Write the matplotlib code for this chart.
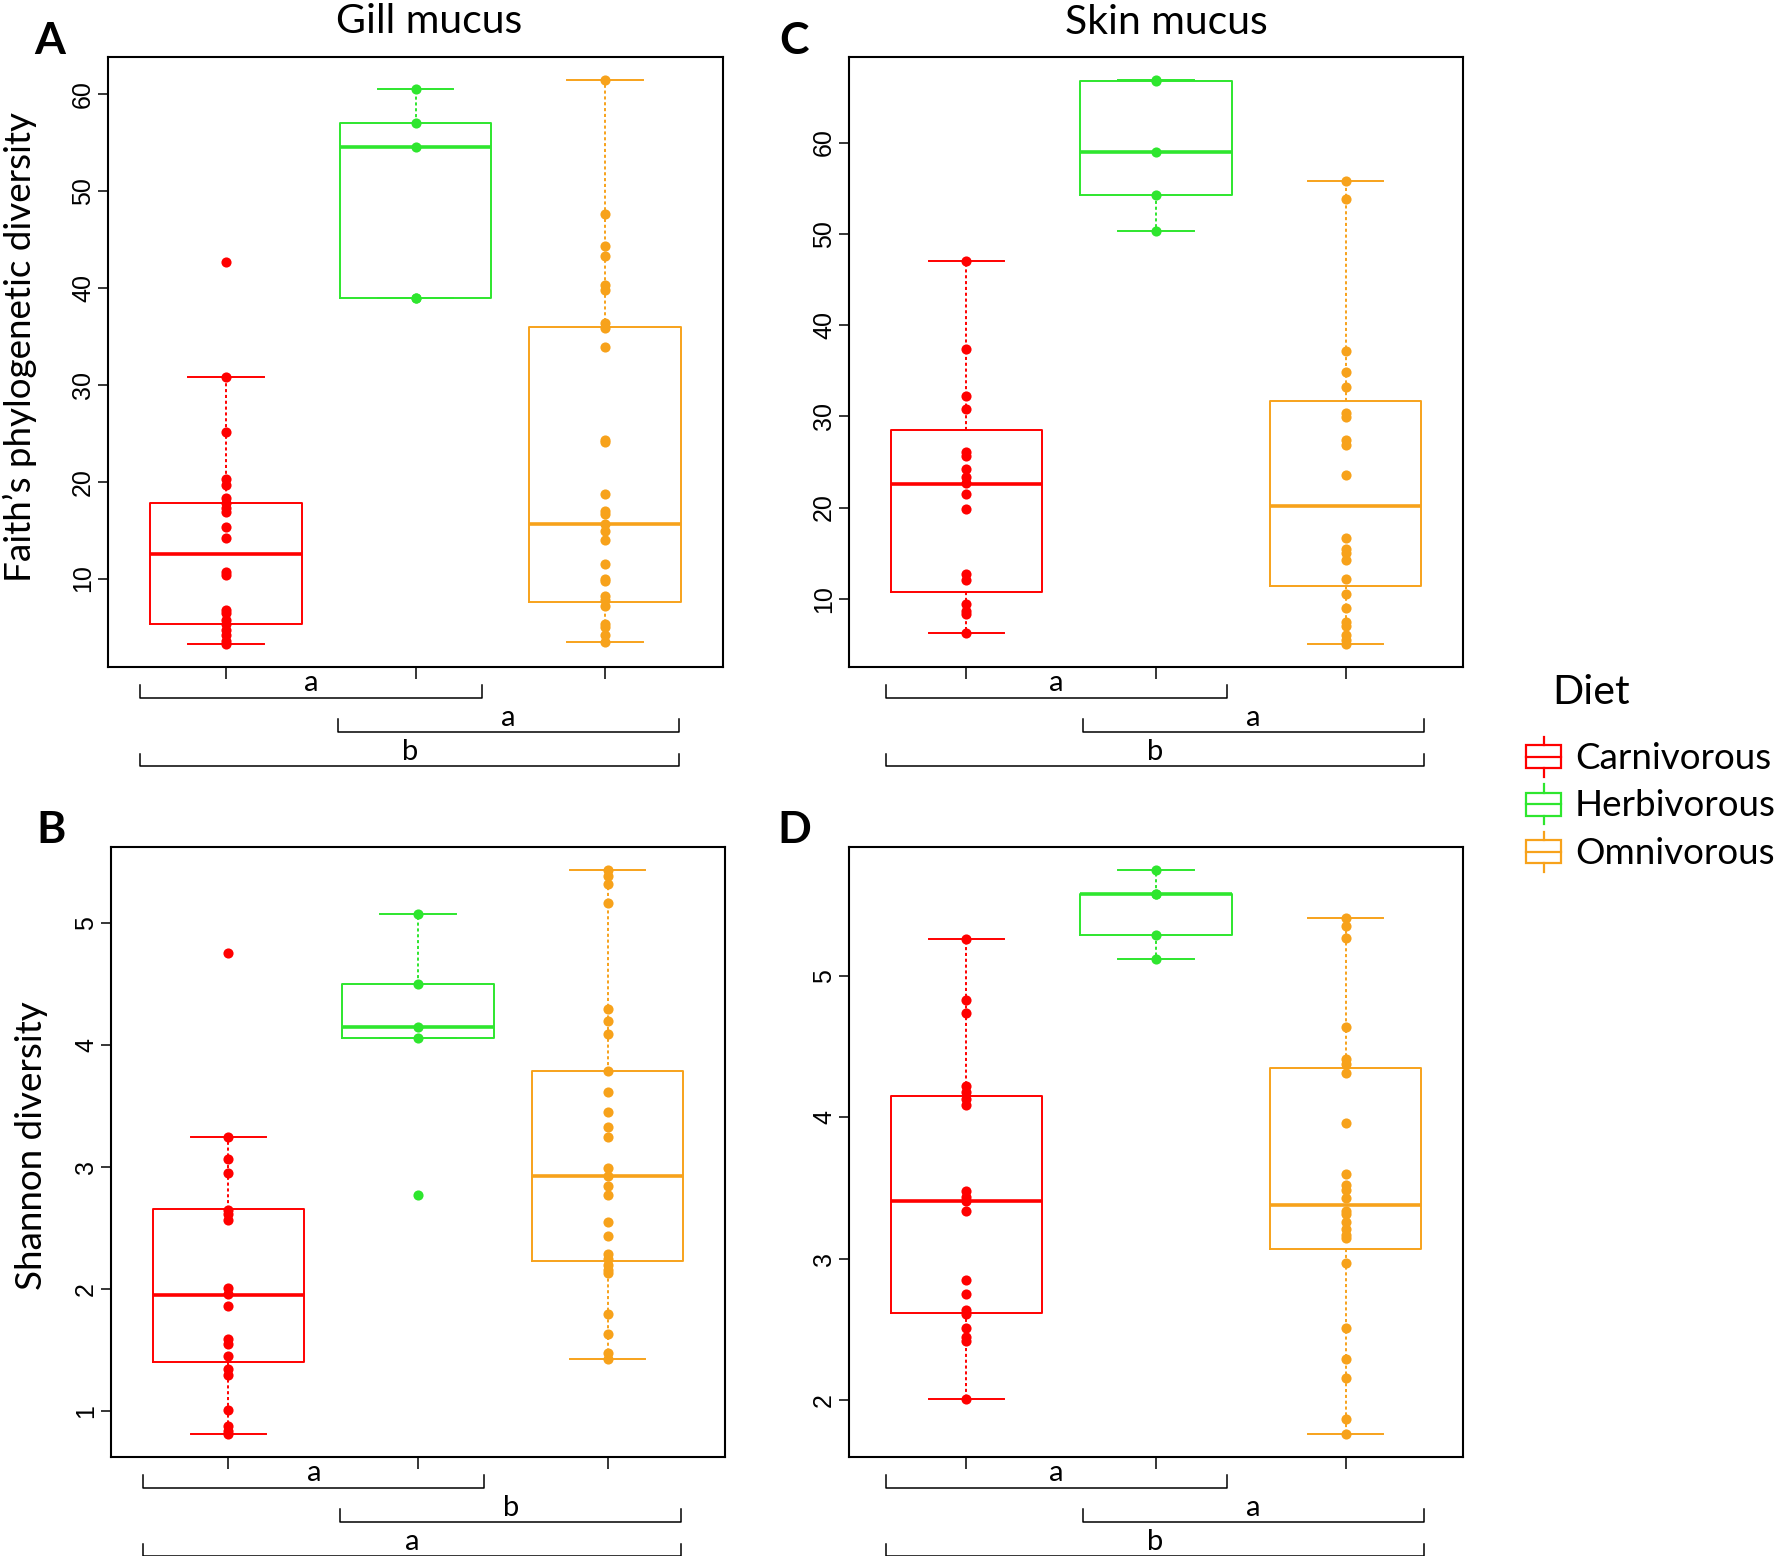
import numpy as np
import matplotlib.pyplot as plt
import matplotlib.transforms as mtransforms
from matplotlib.patches import Rectangle

# =========================================
# DATA
# =========================================

diets = ["Carnivorous", "Herbivorous", "Omnivorous"]
colors = ["#FF0000", "#2EE62E", "#F7A21B"]

# five numbers per box: lower whisker, lower hinge, median, upper hinge, upper whisker
gill_faith_box = [(3.2, 5.3, 12.5, 17.8, 30.8),
                  (39.0, 39.0, 54.5, 57.0, 60.5),
                  (3.5, 7.6, 15.6, 36.0, 61.5)]
gill_faith_pts = [
    [42.7, 30.8, 25.1, 20.3, 19.7, 18.3, 17.8, 17.3, 16.9, 15.3, 14.2, 10.7, 10.4,
     6.8, 6.4, 5.7, 5.3, 4.7, 4.2, 3.6, 3.2],
    [60.5, 57.0, 54.5, 39.0, 39.0],
    [61.5, 47.6, 44.3, 43.3, 40.3, 39.8, 36.4, 35.9, 33.9, 24.3, 24.1, 18.7, 17.0,
     16.7, 15.6, 14.9, 14.0, 11.5, 10.0, 9.7, 8.2, 7.8, 7.2, 5.3, 5.0, 4.2, 3.5]]

skin_faith_box = [(6.2, 10.7, 22.6, 28.5, 47.0),
                  (50.3, 54.3, 59.0, 66.7, 66.9),
                  (5.0, 11.4, 20.2, 31.7, 55.8)]
skin_faith_pts = [
    [47.0, 37.4, 32.2, 30.8, 26.1, 25.7, 24.2, 23.4, 22.7, 21.5, 19.8, 12.7, 12.1,
     9.4, 8.7, 8.3, 6.2],
    [66.9, 66.7, 59.0, 54.3, 50.3],
    [55.8, 53.8, 37.2, 34.8, 33.2, 30.4, 29.9, 27.4, 26.9, 23.6, 16.7, 15.5, 15.0,
     14.3, 12.2, 10.5, 9.0, 7.5, 7.0, 6.0, 5.5, 5.0]]

gill_shannon_box = [(0.81, 1.40, 1.95, 2.66, 3.25),
                    (4.06, 4.06, 4.15, 4.50, 5.08),
                    (1.43, 2.23, 2.93, 3.79, 5.44)]
gill_shannon_pts = [
    [4.76, 3.25, 3.07, 2.95, 2.65, 2.62, 2.57, 2.01, 1.96, 1.86, 1.59, 1.55, 1.45,
     1.35, 1.30, 1.01, 0.88, 0.84, 0.81],
    [5.08, 4.50, 4.15, 4.06, 2.77],
    [5.44, 5.39, 5.32, 5.17, 4.30, 4.20, 4.09, 3.79, 3.62, 3.45, 3.33, 3.25, 2.99,
     2.93, 2.85, 2.77, 2.55, 2.44, 2.29, 2.25, 2.20, 2.16, 2.13, 1.80, 1.63, 1.48, 1.43]]

skin_shannon_box = [(2.01, 2.62, 3.41, 4.15, 5.26),
                    (5.12, 5.29, 5.58, 5.58, 5.75),
                    (1.76, 3.07, 3.38, 4.35, 5.41)]
skin_shannon_pts = [
    [5.26, 4.83, 4.74, 4.22, 4.18, 4.13, 4.09, 3.48, 3.44, 3.41, 3.34, 2.85, 2.75,
     2.64, 2.61, 2.51, 2.45, 2.42, 2.01],
    [5.75, 5.58, 5.58, 5.29, 5.12],
    [5.41, 5.35, 5.27, 4.64, 4.41, 4.38, 4.31, 3.96, 3.60, 3.52, 3.49, 3.43, 3.34,
     3.32, 3.26, 3.21, 3.17, 3.15, 2.97, 2.51, 2.29, 2.16, 1.87, 1.76]]

faith_ticks = [10, 20, 30, 40, 50, 60]
gill_shannon_ticks = [1, 2, 3, 4, 5]
skin_shannon_ticks = [2, 3, 4, 5]

# significance letters for the three pairwise brackets (C-H, H-O, C-O)
letters_A = ["a", "a", "b"]
letters_B = ["a", "b", "a"]
letters_C = ["a", "a", "b"]
letters_D = ["a", "a", "b"]

# =========================================
# FIGURE SETUP
# =========================================

plt.rcParams['font.family'] = ['Liberation Sans', 'DejaVu Sans']
TXT = ['Lato', 'DejaVu Sans']

W, H = 1776, 1556
fig = plt.figure(figsize=(W / 100, H / 100), dpi=100)


def px_axes(left, top, right, bottom):
    return fig.add_axes([left / W, 1 - bottom / H, (right - left) / W, (bottom - top) / H])


bracket_spans = [(0.55, 2.35), (1.59, 3.39), (0.55, 3.39)]
bracket_y = [-0.050, -0.106, -0.163]


def draw_panel(ax, boxes, points, yticks, letters, shift=0.0):
    stats = [dict(whislo=b[0], q1=b[1], med=b[2], q3=b[3], whishi=b[4], fliers=[])
             for b in boxes]
    art = ax.bxp(stats, positions=[1, 2, 3], widths=0.8, capwidths=0.4,
                 showfliers=False,
                 boxprops=dict(lw=1.4),
                 medianprops=dict(lw=2.6, solid_capstyle='butt'),
                 whiskerprops=dict(lw=1.4, linestyle=(0, (1.6, 1.4))),
                 capprops=dict(lw=1.4))
    for i, c in enumerate(colors):
        art['boxes'][i].set_color(c)
        art['medians'][i].set_color(c)
        for k in (2 * i, 2 * i + 1):
            art['whiskers'][k].set_color(c)
            art['caps'][k].set_color(c)

    for i, (vals, c) in enumerate(zip(points, colors)):
        ax.plot(np.full(len(vals), i + 1), vals, 'o', color=c, ms=7.3,
                mec='none', zorder=4)

    allv = np.concatenate([np.asarray(v) for v in points])
    pad = 0.04 * (allv.max() - allv.min())
    ax.set_ylim(allv.min() - pad, allv.max() + pad)
    ax.set_xlim(0.38, 3.62)
    ax.set_xticks([1, 2, 3])
    ax.set_xticklabels([])
    ax.set_yticks(yticks)
    ax.tick_params(axis='x', length=8.5, width=1.1)
    ax.tick_params(axis='y', length=7.2, width=1.1, labelsize=18,
                   labelrotation=90, pad=2)
    plt.setp(ax.get_yticklabels(), va='center')
    for s in ax.spines.values():
        s.set_linewidth(1.5)

    trans = mtransforms.blended_transform_factory(ax.transData, ax.transAxes)
    for (x0, x1), y, lab in zip(bracket_spans, bracket_y, letters):
        x0, x1 = x0 + shift, x1 + shift
        ax.plot([x0, x0, x1, x1], [y + 0.021, y, y, y + 0.021], color='black',
                lw=1.1, transform=trans, clip_on=False)
        ax.text((x0 + x1) / 2, y + 0.010, lab, ha='center', va='baseline',
                transform=trans, family=TXT, fontsize=21)


axA = px_axes(108, 57, 723, 667)
axC = px_axes(849, 57, 1463, 667)
axB = px_axes(111, 847, 725, 1457)
axD = px_axes(849, 847, 1463, 1457)

draw_panel(axA, gill_faith_box, gill_faith_pts, faith_ticks, letters_A)
draw_panel(axC, skin_faith_box, skin_faith_pts, faith_ticks, letters_C, shift=0.025)
draw_panel(axB, gill_shannon_box, gill_shannon_pts, gill_shannon_ticks, letters_B)
draw_panel(axD, skin_shannon_box, skin_shannon_pts, skin_shannon_ticks, letters_D,
           shift=0.025)

# =========================================
# OVERLAY: titles, panel letters, axis labels, legend (pixel coords)
# =========================================

lax = fig.add_axes([0, 0, 1, 1])
lax.set_xlim(0, W)
lax.set_ylim(H, 0)
lax.axis('off')

lax.text(429, 33, "Gill mucus", ha='center', va='baseline', family=TXT, fontsize=29.5)
lax.text(1166, 34, "Skin mucus", ha='center', va='baseline', family=TXT, fontsize=29.5)

for lab, x, y in [("A", 50, 54), ("C", 794, 54), ("B", 51, 843), ("D", 794, 843)]:
    lax.text(x, y, lab, ha='center', va='baseline', family=TXT, fontsize=32,
             fontweight='bold')

lax.text(31, 347, "Faith\u2019s phylogenetic diversity", rotation=90,
         rotation_mode='anchor', ha='center', va='baseline', family=TXT, fontsize=26.5)
lax.text(42, 1146, "Shannon diversity", rotation=90, rotation_mode='anchor',
         ha='center', va='baseline', family=TXT, fontsize=26.5)

# legend
lax.text(1552, 704, "Diet", ha='left', va='baseline', family=TXT, fontsize=29.5)
row_y = 756.6
for name, c in zip(diets, colors):
    lax.add_patch(Rectangle((1526, row_y - 11.5), 35, 23, fill=False, ec=c, lw=1.6))
    lax.plot([1526, 1561], [row_y, row_y], color=c, lw=1.6)
    lax.plot([1543.5, 1543.5], [row_y - 20, row_y - 11.5], color=c, lw=1.6)
    lax.plot([1543.5, 1543.5], [row_y + 11.5, row_y + 20], color=c, lw=1.6)
    lax.text(1575, row_y + 12, name, ha='left', va='baseline', family=TXT, fontsize=26.5)
    row_y += 47.6

fig.savefig("out.png", dpi=100)
